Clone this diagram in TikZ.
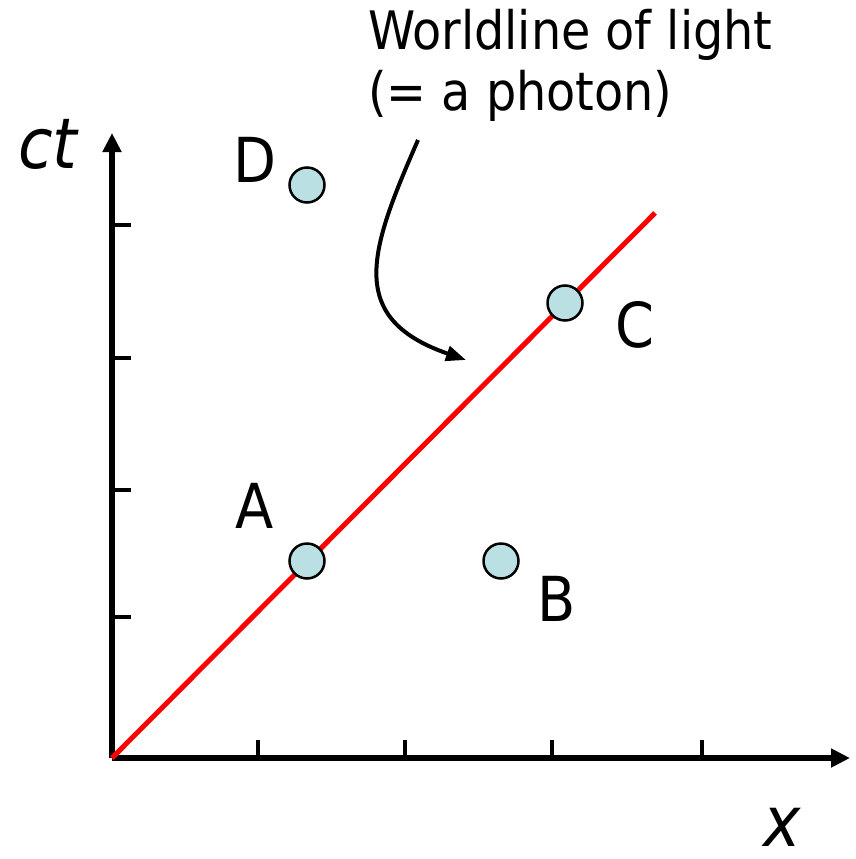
\documentclass[tikz,border=0pt]{standalone}
\usepackage{fontspec}
\setmainfont{DejaVu Sans Condensed}
\usetikzlibrary{arrows.meta}
\definecolor{ptfill}{RGB}{186,224,227}
\begin{document}
\begin{tikzpicture}[x=1pt,y=-1pt,
  axis/.style={line width=6pt,-{Triangle[length=19pt,width=18pt]}},
  tick/.style={line width=3.5pt},
  event/.style={circle,draw=black,line width=2.5pt,fill=ptfill,minimum size=35pt,inner sep=0pt},
  evlabel/.style={inner sep=0pt,font=\fontsize{62}{70}\selectfont},
  axlabel/.style={inner sep=0pt,anchor=base west,font=\fontsize{70}{80}\selectfont\itshape},
  note/.style={inner sep=0pt,anchor=base west,font=\fontsize{53}{60}\selectfont}]
\useasboundingbox (0,0) rectangle (855,859);
% axes
\coordinate (O) at (112,758);
\coordinate (Ytip) at (112,133);
\coordinate (Xtip) at (850,758);
\draw[axis] (O) -- (Ytip);
\draw[axis] (O) -- (Xtip);
% ticks
\foreach \yy in {225,358,490,617} \draw[tick] (112,\yy) -- (131,\yy);
\foreach \xx in {258,405,552,702} \draw[tick] (\xx,740) -- (\xx,760);
% worldline of light
\coordinate (Lend) at (655,213);
\draw[red,line width=5pt] (O) -- (Lend);
% events
\node[event] (A) at (307,561) {};
\node[event] (B) at (501,561) {};
\node[event] (C) at (565,303) {};
\node[event] (D) at (307,185) {};
\node[evlabel] (lA) at (255,506) {A};
\node[evlabel] (lB) at (557,599) {B};
\node[evlabel] (lC) at (635,325) {C};
\node[evlabel] (lD) at (255,160) {D};
% axis labels
\node[axlabel] (ct) at (18,168) {ct};
\node[axlabel] (xl) at (763,846) {x};
% annotation
\node[note] (n1) at (368,50) {Worldline of light};
\node[note] (n2) at (368,110) {(= a photon)};
\coordinate (cs) at (418,140);
\coordinate (ce) at (466,360);
\draw[line width=4pt,-{Triangle[length=20pt,width=15pt]}] (cs) .. controls (370,250) and (345,318) .. (ce);
\end{tikzpicture}
\end{document}
